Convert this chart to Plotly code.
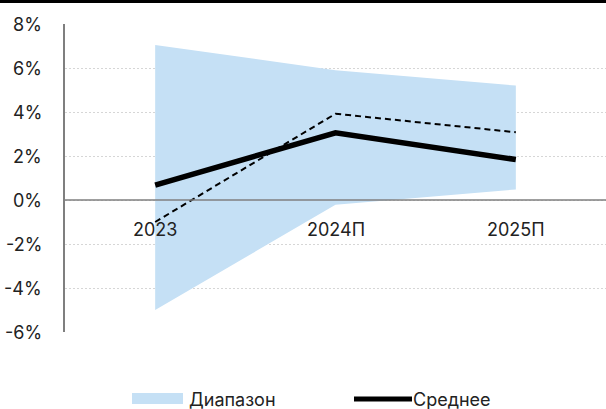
import plotly.graph_objects as go

categories = ["2023", "2024П", "2025П"]
range_upper = [7.05, 5.9, 5.2]
range_lower = [-5.0, -0.22, 0.48]
mean_values = [0.68, 3.05, 1.84]
dashed_values = [-1.0, 3.92, 3.08]
y_ticks = [-6, -4, -2, 0, 2, 4, 6, 8]
y_tick_labels = [f"{v}%" for v in y_ticks]

FONT = "Inter"
FS = 18
W, H = 606, 409
L, R, T, B = 65, 0, 24, 77
PH = H - T - B
PW = W - L - R


def px_x(p):
    return (p - L) / PW


def px_y(p):
    return (H - B - p) / PH


fig = go.Figure()
fig.add_trace(go.Scatter(
    x=categories + categories[::-1],
    y=range_upper + range_lower[::-1],
    fill="toself", fillcolor="#C5E0F5", mode="none",
    line=dict(width=0), hoverinfo="skip", showlegend=False,
))
fig.add_trace(go.Scatter(
    x=categories, y=dashed_values, mode="lines",
    line=dict(color="black", width=2, dash="6px,4px"), showlegend=False,
))
fig.add_trace(go.Scatter(
    x=categories, y=mean_values, mode="lines",
    line=dict(color="black", width=5.5), showlegend=False,
))

tick_font = dict(family=FONT, size=FS, color="#222222")
annotations = []
for i, c in enumerate(categories):
    annotations.append(dict(x=i, y=-1.35, xref="x", yref="y", text=c,
                            showarrow=False, font=tick_font,
                            xanchor="center", yanchor="middle"))
for v, t in zip(y_ticks, y_tick_labels):
    annotations.append(dict(x=px_x(44), y=v, xref="paper", yref="y", text=t,
                            showarrow=False, font=tick_font,
                            xanchor="right", yanchor="middle"))
# legend labels
annotations.append(dict(x=px_x(187), y=px_y(399), xref="paper", yref="paper", text="Диапазон",
                        showarrow=False, font=tick_font,
                        xanchor="left", yanchor="middle"))
annotations.append(dict(x=px_x(411), y=px_y(399), xref="paper", yref="paper", text="Среднее",
                        showarrow=False, font=tick_font,
                        xanchor="left", yanchor="middle"))

shapes = [
    # top rule
    dict(type="line", xref="paper", yref="paper", x0=px_x(0), x1=px_x(W),
         y0=px_y(1.5), y1=px_y(1.5), line=dict(color="black", width=3)),
    # zero line
    dict(type="line", xref="paper", yref="y", x0=0, x1=1, y0=0, y1=0,
         line=dict(color="#7f7f7f", width=1.5)),
    # legend swatches
    dict(type="rect", xref="paper", yref="paper", x0=px_x(132), x1=px_x(183),
         y0=px_y(393), y1=px_y(404), fillcolor="#C5E0F5", line=dict(width=0)),
    dict(type="line", xref="paper", yref="paper", x0=px_x(354), x1=px_x(412),
         y0=px_y(399), y1=px_y(399), line=dict(color="black", width=5)),
]

fig.update_layout(
    width=W, height=H,
    margin=dict(l=L, r=R, t=T, b=B),
    paper_bgcolor="white", plot_bgcolor="white",
    showlegend=False,
    xaxis=dict(type="category", range=[-0.5, 2.5], showticklabels=False,
               showgrid=False, zeroline=False, showline=False, ticks=""),
    yaxis=dict(range=[-6, 8], tickvals=y_ticks, showticklabels=False,
               showgrid=True, gridcolor="#d6d6d6", griddash="2px,2px", gridwidth=1,
               zeroline=False, showline=True, linecolor="#7f7f7f", linewidth=1.5, ticks=""),
    annotations=annotations,
    shapes=shapes,
)

fig.write_html("out.html")
